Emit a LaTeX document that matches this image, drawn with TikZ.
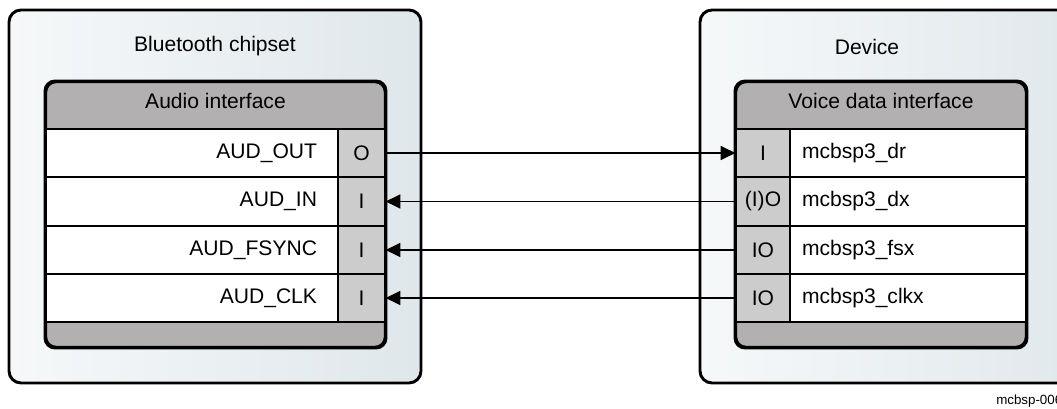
\documentclass[tikz,border=0pt]{standalone}
\usepackage{fontspec}
\setmainfont{Liberation Sans}
\usetikzlibrary{arrows.meta}
\definecolor{outerL}{RGB}{246,248,249}
\definecolor{outerR}{RGB}{223,231,235}
\definecolor{headgray}{RGB}{178,176,177}
\definecolor{portgray}{RGB}{204,204,204}
\tikzset{
  txt/.style={font=\fontsize{15.8pt}{18pt}\selectfont},
  outerbox/.style={draw=black, line width=2.2pt, rounded corners=9pt, left color=outerL, right color=outerR, minimum width=309pt, minimum height=279.75pt, inner sep=0pt},
  innerbox/.style={draw=black, line width=1.8pt, rounded corners=7.5pt, fill=headgray, minimum height=198.75pt, inner sep=0pt},
  namecellL/.style={txt, draw=black, line width=0.9pt, fill=white, minimum height=36pt, text width=187.5pt, inner xsep=15.75pt, inner ysep=0pt, align=right},
  namecellR/.style={txt, draw=black, line width=0.9pt, fill=white, minimum height=36pt, text width=159pt, inner xsep=9pt, inner ysep=0pt, align=left},
  portcell/.style={txt, draw=black, line width=0.9pt, fill=portgray, minimum height=36pt, inner sep=0pt},
  title/.style={txt, inner sep=0pt},
  sig/.style={line width=0.9pt, -{Triangle[length=11pt, width=10.5pt]}}
}
\begin{document}
\begin{tikzpicture}[x=0.75pt,y=-0.75pt]
\useasboundingbox (0,0) rectangle (1057,409);
% outer boxes
\node[outerbox] (chip) at (215,196.5) {};
\node[outerbox] (dev) at (906,196.5) {};
% inner boxes
\node[innerbox, minimum width=254.25pt] (audio) at (215.5,214.5) {};
\node[innerbox, minimum width=217.5pt] (voice) at (881,214.5) {};
% titles
\node[title] (chipT) at (215,46) {Bluetooth chipset};
\node[title] (devT) at (867,47) {Device};
\node[title] (audioT) at (215.5,101) {Audio interface};
\node[title] (voiceT) at (881,101) {Voice data interface};
% left rows
\node[namecellL, minimum width=219pt] (ln1) at (192,153) {AUD\_OUT};
\node[namecellL, minimum width=219pt] (ln2) at (192,201.5) {AUD\_IN};
\node[namecellL, minimum width=219pt] (ln3) at (192,250) {AUD\_FSYNC};
\node[namecellL, minimum width=219pt] (ln4) at (192,298) {AUD\_CLK};
\node[portcell, minimum width=35.25pt] (lp1) at (361.5,153) {O};
\node[portcell, minimum width=35.25pt] (lp2) at (361.5,201.5) {I};
\node[portcell, minimum width=35.25pt] (lp3) at (361.5,250) {I};
\node[portcell, minimum width=35.25pt] (lp4) at (361.5,298) {I};
% right rows
\node[portcell, minimum width=40.5pt] (rp1) at (763,153) {I};
\node[portcell, minimum width=40.5pt] (rp2) at (763,201.5) {(I)O};
\node[portcell, minimum width=40.5pt] (rp3) at (763,250) {IO};
\node[portcell, minimum width=40.5pt] (rp4) at (763,298) {IO};
\node[namecellR, minimum width=177pt] (rn1) at (908,153) {mcbsp3\_dr};
\node[namecellR, minimum width=177pt] (rn2) at (908,201.5) {mcbsp3\_dx};
\node[namecellR, minimum width=177pt] (rn3) at (908,250) {mcbsp3\_fsx};
\node[namecellR, minimum width=177pt] (rn4) at (908,298) {mcbsp3\_clkx};
% inner box outlines on top
\draw[line width=1.8pt, rounded corners=7.5pt] (audio.south west) rectangle (audio.north east);
\draw[line width=1.8pt, rounded corners=7.5pt] (voice.south west) rectangle (voice.north east);
% signals
\draw[sig] (lp1.east) -- (rp1.west);
\draw[sig] (rp2.west) -- (lp2.east);
\draw[sig] (rp3.west) -- (lp3.east);
\draw[sig] (rp4.west) -- (lp4.east);
% figure id
\node[anchor=base west, inner sep=0pt, font=\fontsize{10pt}{12pt}\selectfont] (figid) at (996,405) {mcbsp-006};
\end{tikzpicture}
\end{document}
